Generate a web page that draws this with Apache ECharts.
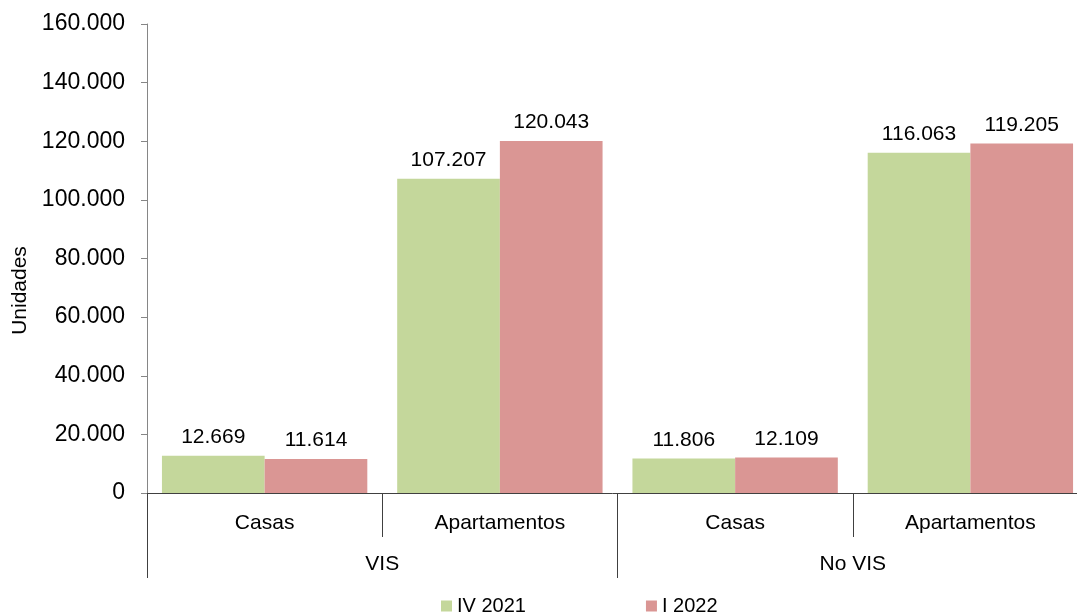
<!DOCTYPE html>
<html>
<head>
<meta charset="utf-8">
<script src="https://cdn.jsdelivr.net/npm/echarts@6/dist/echarts.min.js"></script>
<style>
  html, body { margin: 0; padding: 0; background: #fff; }
  #chart { width: 1077px; height: 614px; }
</style>
</head>
<body>
<div id="chart"></div>
<script>
// Units by housing type, grouped by VIS / No VIS
const categories = ['Casas', 'Apartamentos', 'Casas', 'Apartamentos'];
const groups = ['VIS', 'No VIS'];
const seriesNames = ['IV 2021', 'I 2022'];
const valuesIV2021 = [12669, 107207, 11806, 116063];
const valuesI2022 = [11614, 120043, 12109, 119205];
const yTicks = { min: 0, max: 160000, interval: 20000 };

function fmt(v) {
  return String(Math.round(v)).replace(/\B(?=(\d{3})+(?!\d))/g, '.');
}

const font = 'Liberation Sans, Arial, sans-serif';
const axisColor = '#868686';
const divColor = '#404040';
const chart = echarts.init(document.getElementById('chart'));

chart.setOption({
  animation: false,
  grid: { left: 147, top: 24, width: 941, bottom: 121, containLabel: false, outerBoundsMode: 'none' },
  legend: {
    data: seriesNames,
    left: 436,
    top: 591,
    itemWidth: 11,
    itemHeight: 11,
    itemGap: 120,
    icon: 'rect',
    textStyle: { fontFamily: font, fontSize: 20, color: '#000' }
  },
  xAxis: [
    {
      type: 'category',
      data: categories,
      position: 'bottom',
      axisLine: { show: true, lineStyle: { color: divColor, width: 1 } },
      axisTick: { show: true, interval: 0, length: 44, lineStyle: { color: divColor } },
      axisLabel: { interval: 0, margin: 20, fontFamily: font, fontSize: 21, color: '#000' }
    },
    {
      type: 'category',
      data: groups,
      position: 'bottom',
      axisLine: { show: false },
      axisTick: { show: true, interval: 0, length: 85, lineStyle: { color: divColor } },
      axisLabel: { interval: 0, margin: 61, fontFamily: font, fontSize: 21, color: '#000' }
    }
  ],
  yAxis: {
    type: 'value',
    min: yTicks.min,
    max: yTicks.max,
    interval: yTicks.interval,
    name: 'Unidades',
    nameLocation: 'middle',
    nameGap: 113,
    nameRotate: 90,
    nameTextStyle: { fontFamily: font, fontSize: 21, color: '#000', padding: [0, 64, 0, 0] },
    axisLine: { show: true, lineStyle: { color: axisColor, width: 1 } },
    axisTick: { show: true, length: 6, lineStyle: { color: axisColor } },
    splitLine: { show: false },
    axisLabel: { margin: 22, fontFamily: font, fontSize: 23, color: '#000', formatter: fmt }
  },
  series: [
    {
      name: seriesNames[0],
      type: 'bar',
      data: valuesIV2021,
      barGap: '0%',
      barCategoryGap: '12.7%',
      itemStyle: { color: '#C4D79B' },
      label: { show: true, position: 'top', distance: 8, fontFamily: font, fontSize: 21, color: '#000', formatter: p => fmt(p.value) }
    },
    {
      name: seriesNames[1],
      type: 'bar',
      data: valuesI2022,
      barGap: '0%',
      barCategoryGap: '12.7%',
      itemStyle: { color: '#DA9694' },
      label: { show: true, position: 'top', distance: 8, fontFamily: font, fontSize: 21, color: '#000', formatter: p => fmt(p.value) }
    }
  ]
});
</script>
</body>
</html>
